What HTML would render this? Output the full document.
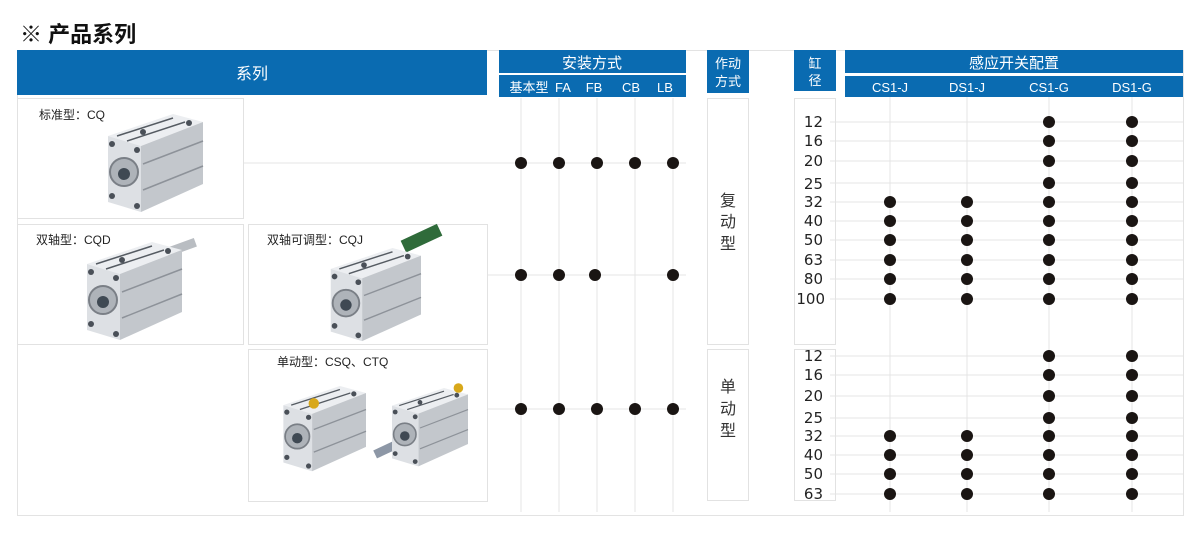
<!DOCTYPE html>
<html><head><meta charset="utf-8"><style>
html,body{margin:0;padding:0;background:#fff}
body{width:1200px;height:547px;position:relative;overflow:hidden;font-family:"Liberation Sans","Noto Sans CJK SC",sans-serif}
</style></head><body>
<svg width="1200" height="547" viewBox="0 0 1200 547" xmlns="http://www.w3.org/2000/svg" style="position:absolute;left:0;top:0">
<defs>
<g id="cyl">
  <polygon points="5,22 70,0 100,8 38,32" fill="#eceef1"/>
  <polygon points="38,32 100,8 100,70 38,98" fill="#c3c7cc"/>
  <polygon points="5,22 38,32 38,98 5,88" fill="#dde0e4"/>
  <line x1="14" y1="22" x2="70" y2="4" stroke="#555b62" stroke-width="1.5"/>
  <line x1="24" y1="27" x2="82" y2="8" stroke="#555b62" stroke-width="1.5"/>
  <line x1="40" y1="50" x2="100" y2="27" stroke="#8d9299" stroke-width="1.5"/>
  <line x1="40" y1="76" x2="100" y2="52" stroke="#8d9299" stroke-width="1.5"/>
  <circle cx="21" cy="58" r="14" fill="#aeb3b9" stroke="#7a7f86" stroke-width="2"/>
  <circle cx="21" cy="60" r="6" fill="#3f4953"/>
  <circle cx="9" cy="30" r="3" fill="#4a5058"/><circle cx="34" cy="36" r="3" fill="#4a5058"/>
  <circle cx="9" cy="82" r="3" fill="#4a5058"/><circle cx="34" cy="92" r="3" fill="#4a5058"/>
  <circle cx="40" cy="18" r="3" fill="#4a5058"/><circle cx="86" cy="9" r="3" fill="#4a5058"/>
</g>
</defs>
<text x="20" y="42" font-size="22" font-weight="bold" fill="#111" font-family="Liberation Sans,Noto Sans CJK SC,sans-serif">※ 产品系列</text>

<!-- outer frame -->
<rect x="17.5" y="50.5" width="1166" height="465" fill="none" stroke="#e3e3e3"/>

<!-- headers -->
<g fill="#0a6bb1">
<rect x="17" y="50" width="470" height="45"/>
<rect x="499" y="50" width="187" height="23"/>
<rect x="499" y="75" width="187" height="22"/>
<rect x="707" y="50" width="42" height="43"/>
<rect x="794" y="50" width="42" height="41"/>
<rect x="845" y="50" width="338" height="23"/>
<rect x="845" y="76" width="338" height="21"/>
</g>
<g fill="#fff" font-family="Liberation Sans,Noto Sans CJK SC,sans-serif" text-anchor="middle">
<text x="252" y="79" font-size="16">系列</text>
<text x="592" y="68" font-size="15">安装方式</text>
<text x="529" y="92" font-size="13">基本型</text>
<text x="563" y="92" font-size="13">FA</text>
<text x="594" y="92" font-size="13">FB</text>
<text x="631" y="92" font-size="13">CB</text>
<text x="665" y="92" font-size="13">LB</text>
<text x="728" y="68" font-size="13">作动</text>
<text x="728" y="86" font-size="13">方式</text>
<text x="815" y="68" font-size="13">缸</text>
<text x="815" y="85" font-size="13">径</text>
<text x="1014" y="68" font-size="15">感应开关配置</text>
<text x="890" y="92" font-size="13">CS1-J</text>
<text x="967" y="92" font-size="13">DS1-J</text>
<text x="1049" y="92" font-size="13">CS1-G</text>
<text x="1132" y="92" font-size="13">DS1-G</text>
</g>

<!-- image boxes -->
<g fill="none" stroke="#e2e2e2">
<rect x="17.5" y="98.5" width="226" height="120"/>
<rect x="17.5" y="224.5" width="226" height="120"/>
<rect x="248.5" y="224.5" width="239" height="120"/>
<rect x="248.5" y="349.5" width="239" height="152"/>
<rect x="707.5" y="98.5" width="41" height="246"/>
<rect x="707.5" y="349.5" width="41" height="151"/>
<rect x="794.5" y="98.5" width="41" height="246"/>
<rect x="794.5" y="349.5" width="41" height="151"/>
</g>
<g font-size="12" fill="#222" font-family="Liberation Sans,Noto Sans CJK SC,sans-serif">
<text x="39" y="119">标准型：CQ</text>
<text x="36" y="244">双轴型：CQD</text>
<text x="267" y="244">双轴可调型：CQJ</text>
<text x="277" y="366">单动型：CSQ、CTQ</text>
</g>
<g font-size="16" fill="#333" text-anchor="middle" font-family="Liberation Sans,Noto Sans CJK SC,sans-serif">
<text x="728" y="206">复</text><text x="728" y="227">动</text><text x="728" y="249">型</text>
<text x="728" y="392">单</text><text x="728" y="414">动</text><text x="728" y="436">型</text>
</g>

<!-- cylinders -->
<use href="#cyl" transform="translate(103,114)"/>
<g transform="translate(82,242)"><rect x="85" y="6" width="30" height="9" fill="#b9bdc2" transform="rotate(-20 85 10)"/><use href="#cyl"/></g>
<g transform="translate(326,248)"><rect x="78" y="-8" width="40" height="13" fill="#2f6b3a" transform="rotate(-25 78 0)"/><use href="#cyl" transform="scale(0.95)"/></g>
<g transform="translate(279,386) scale(0.87)"><use href="#cyl"/><circle cx="40" cy="20" r="6" fill="#d8a81a"/></g>
<g transform="translate(388,388) scale(0.8)"><rect x="-18" y="70" width="40" height="11" fill="#8d97a6" transform="rotate(-25 0 75)"/><use href="#cyl"/><circle cx="88" cy="0" r="6" fill="#d8a81a"/></g>

<!-- mounting grid -->
<g stroke="#e4e4e4" stroke-width="1">
<line x1="521" y1="98" x2="521" y2="512"/><line x1="559" y1="98" x2="559" y2="512"/>
<line x1="597" y1="98" x2="597" y2="512"/><line x1="635" y1="98" x2="635" y2="512"/>
<line x1="673" y1="98" x2="673" y2="512"/>
<line x1="244" y1="163" x2="686" y2="163"/>
<line x1="488" y1="275" x2="686" y2="275"/>
<line x1="488" y1="409" x2="686" y2="409"/>
</g>
<g fill="#1a1513">
<circle cx="521" cy="163" r="6"/><circle cx="559" cy="163" r="6"/><circle cx="597" cy="163" r="6"/><circle cx="635" cy="163" r="6"/><circle cx="673" cy="163" r="6"/>
<circle cx="521" cy="275" r="6"/><circle cx="559" cy="275" r="6"/><circle cx="595" cy="275" r="6"/><circle cx="673" cy="275" r="6"/>
<circle cx="521" cy="409" r="6"/><circle cx="559" cy="409" r="6"/><circle cx="597" cy="409" r="6"/><circle cx="635" cy="409" r="6"/><circle cx="673" cy="409" r="6"/>
</g>

<!-- switch grid -->
<g stroke="#e4e4e4" stroke-width="1">
<line x1="890" y1="97" x2="890" y2="512"/><line x1="967" y1="97" x2="967" y2="512"/>
<line x1="1049" y1="97" x2="1049" y2="512"/><line x1="1132" y1="97" x2="1132" y2="512"/>
<line x1="830" y1="122" x2="1183" y2="122"/><line x1="830" y1="141" x2="1183" y2="141"/>
<line x1="830" y1="161" x2="1183" y2="161"/><line x1="830" y1="183" x2="1183" y2="183"/>
<line x1="830" y1="202" x2="1183" y2="202"/><line x1="830" y1="221" x2="1183" y2="221"/>
<line x1="830" y1="240" x2="1183" y2="240"/><line x1="830" y1="260" x2="1183" y2="260"/>
<line x1="830" y1="279" x2="1183" y2="279"/><line x1="830" y1="299" x2="1183" y2="299"/>
<line x1="830" y1="356" x2="1183" y2="356"/><line x1="830" y1="375" x2="1183" y2="375"/>
<line x1="830" y1="396" x2="1183" y2="396"/><line x1="830" y1="418" x2="1183" y2="418"/>
<line x1="830" y1="436" x2="1183" y2="436"/><line x1="830" y1="455" x2="1183" y2="455"/>
<line x1="830" y1="474" x2="1183" y2="474"/><line x1="830" y1="494" x2="1183" y2="494"/>
</g>
<g font-size="15" fill="#222" text-anchor="end" font-family="DejaVu Sans,sans-serif">
<text x="823" y="127">12</text><text x="823" y="146">16</text><text x="823" y="166">20</text>
<text x="823" y="189">25</text><text x="823" y="207">32</text><text x="823" y="226">40</text>
<text x="823" y="245">50</text><text x="823" y="265">63</text><text x="823" y="284">80</text>
<text x="825" y="304">100</text>
<text x="823" y="361">12</text><text x="823" y="380">16</text><text x="823" y="401">20</text>
<text x="823" y="423">25</text><text x="823" y="441">32</text><text x="823" y="460">40</text>
<text x="823" y="479">50</text><text x="823" y="499">63</text>
</g>
<g fill="#1a1513">
<circle cx="1049" cy="122" r="6"/><circle cx="1132" cy="122" r="6"/>
<circle cx="1049" cy="141" r="6"/><circle cx="1132" cy="141" r="6"/>
<circle cx="1049" cy="161" r="6"/><circle cx="1132" cy="161" r="6"/>
<circle cx="1049" cy="183" r="6"/><circle cx="1132" cy="183" r="6"/>
<circle cx="890" cy="202" r="6"/><circle cx="967" cy="202" r="6"/><circle cx="1049" cy="202" r="6"/><circle cx="1132" cy="202" r="6"/>
<circle cx="890" cy="221" r="6"/><circle cx="967" cy="221" r="6"/><circle cx="1049" cy="221" r="6"/><circle cx="1132" cy="221" r="6"/>
<circle cx="890" cy="240" r="6"/><circle cx="967" cy="240" r="6"/><circle cx="1049" cy="240" r="6"/><circle cx="1132" cy="240" r="6"/>
<circle cx="890" cy="260" r="6"/><circle cx="967" cy="260" r="6"/><circle cx="1049" cy="260" r="6"/><circle cx="1132" cy="260" r="6"/>
<circle cx="890" cy="279" r="6"/><circle cx="967" cy="279" r="6"/><circle cx="1049" cy="279" r="6"/><circle cx="1132" cy="279" r="6"/>
<circle cx="890" cy="299" r="6"/><circle cx="967" cy="299" r="6"/><circle cx="1049" cy="299" r="6"/><circle cx="1132" cy="299" r="6"/>
<circle cx="1049" cy="356" r="6"/><circle cx="1132" cy="356" r="6"/>
<circle cx="1049" cy="375" r="6"/><circle cx="1132" cy="375" r="6"/>
<circle cx="1049" cy="396" r="6"/><circle cx="1132" cy="396" r="6"/>
<circle cx="1049" cy="418" r="6"/><circle cx="1132" cy="418" r="6"/>
<circle cx="890" cy="436" r="6"/><circle cx="967" cy="436" r="6"/><circle cx="1049" cy="436" r="6"/><circle cx="1132" cy="436" r="6"/>
<circle cx="890" cy="455" r="6"/><circle cx="967" cy="455" r="6"/><circle cx="1049" cy="455" r="6"/><circle cx="1132" cy="455" r="6"/>
<circle cx="890" cy="474" r="6"/><circle cx="967" cy="474" r="6"/><circle cx="1049" cy="474" r="6"/><circle cx="1132" cy="474" r="6"/>
<circle cx="890" cy="494" r="6"/><circle cx="967" cy="494" r="6"/><circle cx="1049" cy="494" r="6"/><circle cx="1132" cy="494" r="6"/>
</g>
</svg>
</body></html>
